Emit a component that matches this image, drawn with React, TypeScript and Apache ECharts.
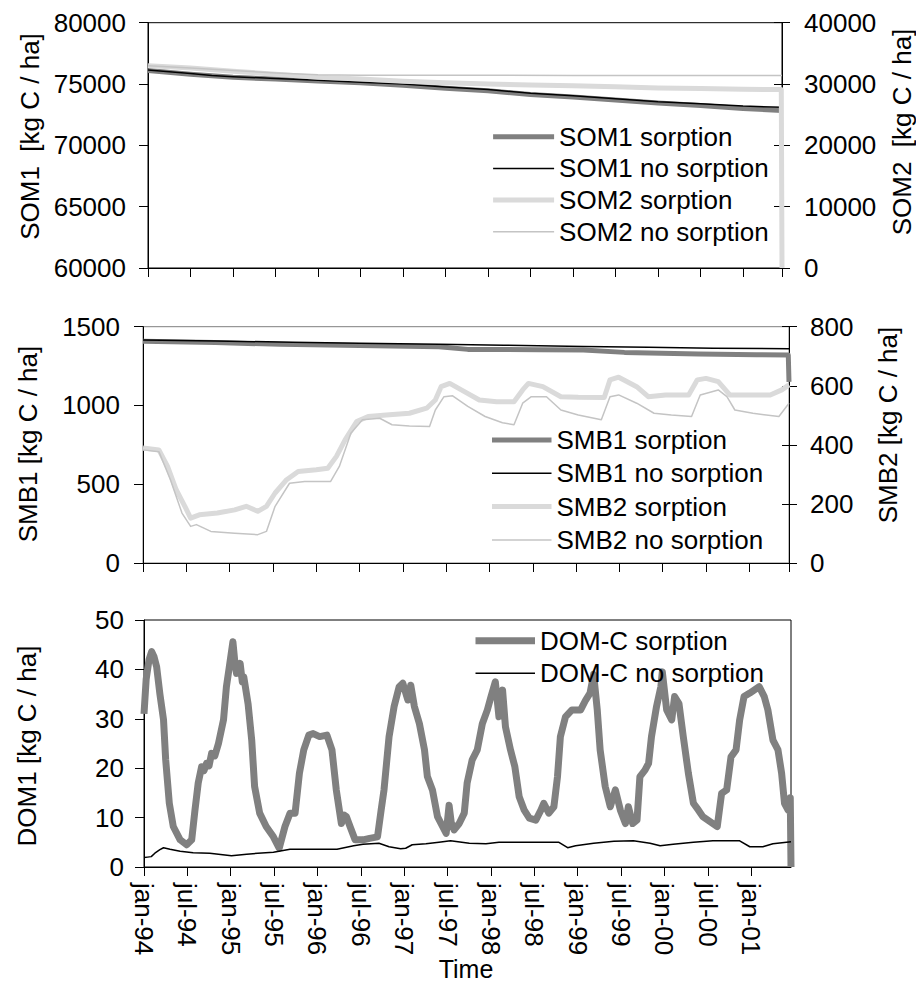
import React, { useEffect, useRef } from "react";
import * as echarts from "echarts";

const FONT = '"Liberation Sans", Arial, Helvetica, sans-serif';
const X_MAX = 89.5; // months after jan-94
const X_TICK_LABELS = [
  "jan-94", "jul-94", "jan-95", "jul-95", "jan-96", "jul-96", "jan-97", "jul-97",
  "jan-98", "jul-98", "jan-99", "jul-99", "jan-00", "jul-00", "jan-01",
];

// x = months since jan-94, y = value
const SOM1_SORPTION: [number, number][] = [
  [0, 76100], [6, 75800], [12, 75550], [18, 75400], [24, 75250], [30, 75100], [36, 74900],
  [42, 74650], [48, 74450], [54, 74150], [60, 73950], [66, 73700], [72, 73450], [78, 73250],
  [84, 73000], [89.5, 72850],
];
const SOM1_NO_SORPTION: [number, number][] = [
  [0, 76150], [3, 76000], [6, 75850], [9, 75700], [12, 75600], [18, 75450], [24, 75300],
  [30, 75150], [36, 75000], [42, 74750], [48, 74550], [54, 74250], [60, 74050], [66, 73800],
  [72, 73550], [78, 73400], [84, 73200], [89.5, 73100],
];
const SOM2_SORPTION: [number, number][] = [
  [0, 33000], [6, 32600], [12, 32100], [18, 31600], [24, 31100], [30, 30800], [36, 30450],
  [42, 30200], [48, 30000], [54, 29850], [60, 29700], [66, 29550], [72, 29350], [78, 29250],
  [84, 29150], [89.4, 29100], [89.5, 0],
];
const SOM2_NO_SORPTION: [number, number][] = [
  [0, 33000], [6, 32600], [12, 32200], [18, 31800], [24, 31500], [30, 31450], [48, 31450],
  [60, 31400], [89.5, 31400],
];

const SMB1_SORPTION: [number, number][] = [
  [0, 1407], [10, 1400], [19, 1388], [30, 1380], [41, 1373], [45, 1356], [55, 1354], [61, 1352],
  [66.7, 1337], [77, 1327], [85, 1322], [89.4, 1320], [89.5, 1150],
];
const SMB1_NO_SORPTION: [number, number][] = [
  [0, 1415], [10, 1410], [20.7, 1401], [30, 1395], [41, 1388], [50, 1382], [61, 1375],
  [70, 1369], [79, 1363], [89.5, 1360],
];
const SMB2_SORPTION: [number, number][] = [
  [0, 389], [2.2, 383], [3.4, 327], [4.6, 248], [5.8, 192], [6.6, 152], [7.8, 163], [10.3, 169],
  [12.7, 180], [14.3, 192], [15.9, 175], [17.1, 192], [18.3, 237], [19.9, 282], [21.5, 310],
  [24, 316], [25.6, 321], [26.8, 361], [28, 417], [29.6, 479], [31.2, 496], [33.7, 501],
  [36.9, 507], [39.3, 524], [40.5, 552], [41.3, 597], [42.5, 608], [44.1, 586], [46.6, 552],
  [49, 546], [51.4, 546], [52.6, 586], [53.4, 608], [55.4, 597], [57.9, 563], [60.3, 561],
  [63.9, 560], [64.7, 620], [65.9, 629], [68.4, 597], [70, 563], [72.4, 569], [75.6, 569],
  [76.8, 620], [78, 625], [79.7, 614], [81.3, 569], [83.7, 569], [86.9, 569], [88.5, 586],
  [89.5, 603],
];
const SMB2_NO_SORPTION: [number, number][] = [
  [0, 383], [2.2, 377], [3.8, 282], [5.4, 169], [6.6, 124], [7.4, 130], [9.4, 107], [12.7, 101],
  [15.9, 96], [17.1, 107], [18.3, 192], [20.3, 270], [22.4, 276], [26, 276], [27.2, 327],
  [28.8, 439], [30.4, 485], [32.8, 490], [34.5, 468], [36.9, 464], [39.7, 462], [40.5, 518],
  [41.7, 563], [42.9, 566], [45, 530], [47.4, 496], [49.8, 475], [51.4, 468], [52.6, 541],
  [53.8, 563], [55.9, 563], [57.9, 518], [60.3, 501], [63.5, 485], [64.7, 563], [65.9, 569],
  [68.4, 541], [70.8, 507], [73.2, 501], [76, 496], [77.2, 569], [79.7, 586], [80.9, 563],
  [82, 518], [84.5, 507], [88.1, 496], [89.5, 541],
];

const DOM_SORPTION: [number, number][] = [
  [0, 31], [0.3, 38], [0.7, 42], [1.06, 43.6], [1.4, 42.5], [1.75, 40.5], [2.2, 35], [2.7, 29.8],
  [3.0, 21.7], [3.5, 12.9], [4.05, 8.2], [5.0, 5.5], [5.9, 4.5], [6.6, 5.5], [7.05, 11.5],
  [7.5, 17], [7.97, 20.3], [8.3, 19.5], [8.66, 21], [9.0, 20.5], [9.35, 23], [9.8, 22.5],
  [10.3, 25], [11, 29.8], [11.4, 36.5], [11.8, 40.5], [12.3, 45.6], [12.6, 41], [12.8, 39.2],
  [13.3, 41.2], [13.6, 37.5], [13.8, 38.5], [14.4, 33], [14.9, 25.7], [15.3, 16.3], [16.0, 10.9],
  [16.9, 8.2], [17.9, 6.1], [18.7, 3.8], [19.5, 8.2], [20.2, 10.9], [20.9, 10.9], [21.5, 19],
  [22.1, 23.7], [22.8, 26.7], [23.4, 27], [24.3, 26.4], [25.3, 26.7], [26.0, 23.7], [26.6, 15.6],
  [27.3, 8.8], [27.7, 10.5], [28.0, 10.2], [28.5, 8.2], [29.2, 5.5], [30.3, 5.5], [31.2, 5.8],
  [32.3, 6.1], [32.8, 11.5], [33.2, 15.6], [33.9, 26.4], [34.6, 32.5], [35.3, 36.5], [35.8, 37.2],
  [36.5, 33.8], [36.9, 36.8], [37.4, 32.5], [38.1, 29], [38.8, 23.7], [39.2, 18.3], [39.9, 15.6],
  [40.6, 10.2], [41.3, 8.2], [41.8, 6.8], [42.2, 12.5], [42.5, 9], [42.9, 7.5], [43.6, 8.8],
  [44.3, 10.9], [44.7, 17], [45.4, 21.7], [46.1, 23.7], [46.8, 29], [47.5, 31.8], [48.0, 34.5],
  [48.6, 37.5], [49.1, 30.4], [49.6, 35.8], [50.0, 28.4], [50.7, 23.7], [51.3, 20.3],
  [51.9, 14.2], [52.6, 11.5], [53.3, 9.9], [54.2, 9.5], [54.9, 11.5], [55.3, 12.9], [56.0, 10.9],
  [56.7, 12.2], [57.2, 18.3], [57.6, 26.4], [58.3, 30.4], [59.2, 31.8], [60.4, 31.8],
  [61.1, 33.8], [61.7, 35.2], [62.2, 39], [62.7, 31.8], [63.1, 23.7], [63.8, 16.3], [64.5, 12.2],
  [65.2, 15.6], [65.9, 11.5], [66.6, 8.8], [67.0, 12.2], [67.6, 8.8], [68.2, 9.5], [68.6, 18.3],
  [69.3, 19.6], [69.8, 21], [70.2, 26.4], [70.9, 32.5], [71.5, 36.5], [71.7, 39.5], [72.3, 31.8],
  [73.0, 29.8], [73.4, 34.5], [74.0, 33.1], [74.6, 26.4], [75.3, 19], [76.0, 12.9], [76.7, 11.5],
  [77.3, 10.2], [78.0, 9.5], [78.7, 8.8], [79.3, 8.2], [79.9, 14.9], [80.6, 15.6], [81.2, 22.3],
  [81.9, 23.7], [82.4, 29.8], [83.0, 34.5], [83.8, 35.2], [84.4, 35.8], [85.1, 36.5],
  [85.8, 34.5], [86.3, 31.8], [87.0, 25.7], [87.7, 23.7], [88.2, 19], [88.6, 12.9], [89.1, 11.5],
  [89.4, 14], [89.5, 0],
];
const DOM_NO_SORPTION: [number, number][] = [
  [0, 1.9], [0.5, 2.0], [1.0, 2.1], [1.5, 2.8], [2.2, 3.5], [2.7, 3.9], [3.6, 3.6], [5, 3.2],
  [6.8, 2.9], [9.1, 2.8], [12.1, 2.3], [14.2, 2.6], [17.9, 3.0], [20.2, 3.6], [22.5, 3.6],
  [26.7, 3.6], [29, 4.3], [30.3, 4.6], [32.5, 4.8], [33.9, 4.1], [35.5, 3.7], [36.2, 3.8],
  [37.1, 4.5], [39, 4.7], [40.8, 5.0], [42.4, 5.3], [45, 4.8], [47.3, 4.7], [49.1, 5.0],
  [51.9, 5.0], [57.4, 5.0], [58.6, 3.9], [59.7, 4.3], [62.2, 4.8], [65, 5.2], [67.7, 5.3],
  [70, 4.8], [71.4, 4.3], [73.2, 4.6], [76, 5.0], [78.7, 5.3], [82.4, 5.3], [83.8, 4.1],
  [85.6, 4.1], [87, 4.7], [89.5, 5.1],
];

const DARK = "#808080";
const LIGHT = "#dadada";
const LIGHT_THIN = "#c4c4c4";
const THICK = 5;
const THIN = 1.5;
const DOM_THICK = 7;

function xAxisFor(gridIndex: number, showLabels: boolean, visible = true) {
  return {
    type: "value",
    gridIndex,
    show: visible,
    min: 0,
    max: X_MAX,
    interval: 6,
    axisLine: { show: true, onZero: false, lineStyle: { color: "#000", width: 1 } },
    axisTick: { show: true, length: 9, lineStyle: { color: "#000", width: 1 } },
    splitLine: { show: false },
    axisLabel: {
      show: showLabels,
      rotate: -90,
      margin: 16,
      fontSize: 26,
      fontFamily: FONT,
      color: "#000",
      showMaxLabel: false,
      formatter: (v: number) => {
        const i = Math.round(v / 6);
        if (Math.abs(v - i * 6) > 1e-6) return "";
        return X_TICK_LABELS[i] ?? "";
      },
    },
  };
}

function yAxisFor(
  gridIndex: number,
  position: "left" | "right",
  min: number,
  max: number,
  interval: number,
  margin: number,
  opts: { labels?: boolean; line?: boolean; inside?: boolean; tickLen?: number } = {}
) {
  const { labels = true, line = true, inside = false, tickLen = 9 } = opts;
  return {
    type: "value",
    gridIndex,
    position,
    min,
    max,
    interval,
    axisLine: { show: line, onZero: false, lineStyle: { color: "#000", width: 1 } },
    axisTick: { show: true, inside, length: tickLen, lineStyle: { color: "#000", width: 1 } },
    splitLine: { show: false },
    axisLabel: {
      show: labels,
      margin,
      fontSize: 26,
      fontFamily: FONT,
      color: "#000",
      formatter: (v: number) => String(v),
    },
  };
}

function lineSeries(
  name: string,
  data: [number, number][],
  xAxisIndex: number,
  yAxisIndex: number,
  color: string,
  width: number
) {
  return {
    name,
    type: "line",
    data,
    xAxisIndex,
    yAxisIndex,
    symbol: "none",
    showSymbol: false,
    silent: true,
    lineStyle: { color, width, join: "round" },
    itemStyle: { color },
    emphasis: { disabled: true },
  };
}

function legendFor(
  items: { name: string; color: string; width: number }[],
  left: number,
  top: number,
  itemWidth: number,
  gap: number
) {
  return {
    data: items.map((it) => ({
      name: it.name,
      itemStyle: { opacity: 0 },
      lineStyle: { color: it.color, width: it.width },
    })),
    orient: "vertical",
    left,
    top,
    padding: 0,
    itemWidth,
    itemHeight: 14,
    itemGap: gap,
    selectedMode: false,
    itemStyle: { opacity: 0 },
    textStyle: { fontSize: 26, lineHeight: 26, color: "#000", fontFamily: FONT },
  };
}

function titleText(text: string, x: number, y: number, rotation: number, fontSize = 26) {
  return {
    type: "text",
    x,
    y,
    rotation,
    silent: true,
    style: {
      text,
      fontSize,
      fontFamily: FONT,
      fill: "#000",
      align: "center",
      verticalAlign: "middle",
    },
  };
}

export default function App() {
  const ref = useRef<HTMLDivElement>(null);

  useEffect(() => {
    if (!ref.current) return;
    const chart = echarts.init(ref.current, undefined, { renderer: "svg" });

    const grids = [
      { left: 148, right: 134, top: 22.7, bottom: 717, show: true, borderColor: "#000", borderWidth: 1 },
      { left: 143, right: 127, top: 326.7, bottom: 422, show: true, borderColor: "#7f7f7f", borderWidth: 1 },
      { left: 144, right: 125, top: 620, bottom: 118, show: true, borderColor: "#000", borderWidth: 1 },
      // overlay grids for inward half of the right-axis cross ticks
      { left: 148, right: 134, top: 22.7, bottom: 717, show: false },
      { left: 143, right: 127, top: 326.7, bottom: 422, show: false },
    ];

    const option = {
      animation: false,
      backgroundColor: "#fff",
      grid: grids,
      xAxis: [
        xAxisFor(0, false),
        xAxisFor(1, false),
        xAxisFor(2, true),
        xAxisFor(3, false, false),
        xAxisFor(4, false, false),
      ],
      yAxis: [
        yAxisFor(0, "left", 60000, 80000, 5000, 22),
        yAxisFor(0, "right", 0, 40000, 10000, 22, { tickLen: 8 }),
        yAxisFor(1, "left", 0, 1500, 500, 23),
        yAxisFor(1, "right", 0, 800, 200, 21, { tickLen: 8 }),
        yAxisFor(2, "left", 0, 50, 10, 20),
        yAxisFor(3, "right", 0, 40000, 10000, 0, { labels: false, line: false, inside: true, tickLen: 8 }),
        yAxisFor(4, "right", 0, 800, 200, 0, { labels: false, line: false, inside: true, tickLen: 7 }),
      ],
      legend: [
        legendFor(
          [
            { name: "SOM1 sorption", color: DARK, width: THICK },
            { name: "SOM1 no sorption", color: "#000", width: THIN },
            { name: "SOM2 sorption", color: LIGHT, width: THICK },
            { name: "SOM2 no sorption", color: LIGHT_THIN, width: THIN },
          ],
          490.6, 123.7, 61, 5.7
        ),
        legendFor(
          [
            { name: "SMB1 sorption", color: DARK, width: THICK },
            { name: "SMB1 no sorption", color: "#000", width: THIN },
            { name: "SMB2 sorption", color: LIGHT, width: THICK },
            { name: "SMB2 no sorption", color: LIGHT_THIN, width: THIN },
          ],
          489.5, 427, 59.5, 7.3
        ),
        legendFor(
          [
            { name: "DOM-C sorption", color: DARK, width: DOM_THICK },
            { name: "DOM-C no sorption", color: "#000", width: THIN },
          ],
          472, 627.7, 59.5, 6.6
        ),
      ],
      series: [
        lineSeries("SOM1 sorption", SOM1_SORPTION, 0, 0, DARK, THICK),
        lineSeries("SOM1 no sorption", SOM1_NO_SORPTION, 0, 0, "#000", THIN),
        lineSeries("SOM2 sorption", SOM2_SORPTION, 0, 1, LIGHT, THICK),
        lineSeries("SOM2 no sorption", SOM2_NO_SORPTION, 0, 1, LIGHT_THIN, THIN),
        lineSeries("SMB1 sorption", SMB1_SORPTION, 1, 2, DARK, THICK),
        lineSeries("SMB1 no sorption", SMB1_NO_SORPTION, 1, 2, "#000", THIN),
        lineSeries("SMB2 sorption", SMB2_SORPTION, 1, 3, LIGHT, THICK),
        lineSeries("SMB2 no sorption", SMB2_NO_SORPTION, 1, 3, LIGHT_THIN, THIN),
        lineSeries("DOM-C sorption", DOM_SORPTION, 2, 4, DARK, DOM_THICK),
        lineSeries("DOM-C no sorption", DOM_NO_SORPTION, 2, 4, "#000", THIN),
      ],
      graphic: [
        titleText("SOM1  [kg C / ha]", 29.5, 136.5, Math.PI / 2),
        titleText("SOM2  [kg C / ha]", 902, 132, Math.PI / 2),
        titleText("SMB1 [kg C / ha]", 27.5, 444, Math.PI / 2),
        titleText("SMB2 [kg C / ha]", 887.5, 425, Math.PI / 2),
        titleText("DOM1 [kg C / ha]", 26.7, 746, Math.PI / 2),
        titleText("Time", 466, 969, 0, 25),
      ],
    };

    chart.setOption(option as any);
    return () => chart.dispose();
  }, []);

  return (
    <div
      ref={ref}
      style={{ position: "absolute", left: 0, top: 0, width: 916, height: 985, background: "#fff" }}
    />
  );
}
